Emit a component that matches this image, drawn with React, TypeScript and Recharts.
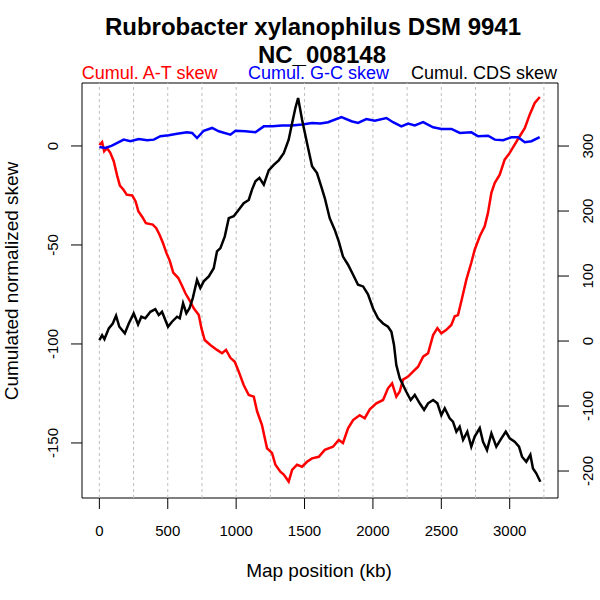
import { LineChart, Line, XAxis, YAxis, ReferenceLine, ReferenceArea } from "recharts";

const FONT = '"Liberation Sans", Arial, Helvetica, sans-serif';

// cumulated A-T skew (left axis)
const atKb = [
  0, 20, 35, 55, 80, 105, 130, 150, 175, 200, 240, 265, 285, 315, 340, 390, 415, 440, 465, 490,
  515, 540, 577, 600, 629, 665, 690, 727, 746, 770, 811, 860, 897, 926, 958, 990, 1019, 1055, 1092, 1129,
  1153, 1189, 1214, 1226, 1262, 1287, 1323, 1348, 1384, 1409, 1445, 1482, 1518, 1555, 1604, 1648, 1708, 1750, 1781, 1818,
  1855, 1903, 1940, 1977, 2025, 2074, 2110, 2140, 2171, 2196, 2220, 2257, 2293, 2330, 2367, 2403, 2440, 2471, 2500, 2537,
  2573, 2598, 2622, 2651, 2683, 2719, 2744, 2781, 2817, 2841, 2866, 2890, 2927, 2963, 3000, 3036, 3073, 3110, 3146, 3183, 3220,
];
const atSkew = [
  0.5, 2, -2.7, -1, -3.5, -7.7, -15, -20, -22, -24.6, -25, -28, -33, -36, -39, -39.7, -41.4, -44.8, -49, -54,
  -58, -64, -66.7, -70, -74.4, -78.6, -82, -85.4, -92, -98, -100.5, -103, -104.7, -103, -107, -109, -114, -120.7, -125.8, -126.6,
  -134, -141, -149, -152.7, -155, -161, -164.5, -166, -169.5, -163.6, -161, -162, -159.5, -157.8, -157, -153.5, -151.9, -148.5, -150, -142.6,
  -138.4, -136, -137.5, -133, -130, -128.3, -122.4, -119.9, -126.6, -124, -118, -116.5, -114, -111.5, -106.4, -104.7, -95.5, -92, -94.6, -92.9,
  -90.4, -86, -85.4, -77, -67.5, -59, -52.4, -45.6, -40.6, -33.8, -23.7, -18.7, -14.5, -6.9, -3.5, 0.7, 4.9, 9, 15.8, 21.7, 24.7,
];

// cumulated G-C skew (left axis)
const gcKb = [
  0, 43, 88, 117, 178, 227, 288, 349, 398, 446, 507, 568, 641, 678, 714, 763, 824, 873, 958, 995,
  1068, 1141, 1202, 1263, 1336, 1409, 1482, 1555, 1616, 1672, 1770, 1843, 1891, 1952, 2013, 2099, 2147, 2208, 2257, 2306,
  2367, 2440, 2501, 2574, 2635, 2720, 2769, 2842, 2891, 2952, 3013, 3061, 3110, 3159, 3219,
];
const gcSkew = [
  -0.5, -1, 0, 1, 3.2, 2.4, 3.5, 2.9, 3.2, 4.9, 5.4, 6.2, 6.9, 6.6, 4, 7.7, 9.1, 7.4, 5.7, 7.7,
  7.4, 6.9, 9.9, 9.9, 10.3, 10.3, 10.8, 11.6, 11.3, 12, 14.6, 12.5, 11.6, 13.6, 12.8, 14.1, 12, 9.9, 11.3, 10.4,
  12, 9.4, 8.6, 8.6, 6.6, 6.9, 4.9, 5.2, 3.2, 2.9, 4.4, 4.4, 1.9, 2.4, 4.5,
];

// cumulated CDS skew (right axis)
const cdsKb = [
  0, 20, 37, 69, 98, 122, 146, 186, 215, 251, 283, 307, 336, 373, 409, 434, 458, 502, 531, 568,
  588, 612, 636, 658, 683, 714, 738, 763, 800, 836, 860, 885, 917, 946, 982, 1019, 1055, 1092, 1116, 1141,
  1170, 1202, 1238, 1275, 1311, 1348, 1384, 1409, 1433, 1453, 1482, 1518, 1555, 1591, 1623, 1648, 1684, 1721, 1750, 1781,
  1818, 1855, 1891, 1928, 1964, 2001, 2037, 2074, 2110, 2135, 2154, 2171, 2196, 2220, 2244, 2276, 2306, 2342, 2374, 2403,
  2440, 2471, 2500, 2525, 2561, 2585, 2610, 2634, 2659, 2690, 2719, 2744, 2781, 2805, 2834, 2866, 2902, 2939, 2971, 3000,
  3036, 3068, 3090, 3121, 3151, 3170, 3194, 3224,
];
const cdsSkew = [
  1.5, 9, 3, 19.5, 27, 39, 22, 11.8, 27, 42.6, 25.6, 37.4, 34.9, 45, 49, 40, 45, 22, 29.7, 37.4,
  35, 58, 42.6, 50, 66, 94, 81.5, 91.8, 99.5, 112, 138, 143, 161, 189, 192, 202, 212, 217, 233, 245.7,
  251, 240.5, 262.6, 271, 278, 289, 309.7, 335, 358.5, 373.8, 340.5, 304.6, 268.8, 258.5, 237, 220, 189, 171, 153.4, 130,
  117.4, 102, 86.6, 84, 72, 50, 35, 27, 22, 14.4, -6, -37, -57.4, -67.7, -78, -90.8, -83, -95.8, -106, -95.8,
  -90.8, -95.8, -114, -103.5, -119, -124, -139.5, -131.8, -152, -139.5, -162.6, -147, -134, -155, -167.7, -142, -162.6, -149.7, -139.5, -149.7,
  -155, -162.6, -178, -185.7, -175, -196, -203.5, -216.5,
];

const xTicks = [0, 500, 1000, 1500, 2000, 2500, 3000];
const gridKb = [0, 250, 500, 750, 1000, 1250, 1500, 1750, 2000, 2250, 2500, 2750, 3000, 3250];
const leftTicks = [-150, -100, -50, 0];
const rightTicks = [-200, -100, 0, 100, 200, 300];

const xDomain: [number, number] = [-127, 3353];
const leftDomain: [number, number] = [-177.8, 31.8];
const rightDomain: [number, number] = [-241.5, 397];

const zip = (xs: number[], ys: number[]) => xs.map((kb, i) => ({ kb, v: ys[i] }));
const atData = zip(atKb, atSkew);
const gcData = zip(gcKb, gcSkew);
const cdsData = zip(cdsKb, cdsSkew);

function LeftTick(props: any) {
  const { y, payload } = props;
  return (
    <text x={58.3} y={y} transform={`rotate(-90 58.3 ${y})`} textAnchor="middle" fontSize={15} fontFamily={FONT} fill="#000">
      {payload.value}
    </text>
  );
}

function RightTick(props: any) {
  const { y, payload } = props;
  return (
    <text x={593.3} y={y} transform={`rotate(-90 593.3 ${y})`} textAnchor="middle" fontSize={15} fontFamily={FONT} fill="#000">
      {payload.value}
    </text>
  );
}

function BottomTick(props: any) {
  const { x, payload } = props;
  return (
    <text x={x} y={535.7} textAnchor="middle" fontSize={15} fontFamily={FONT} fill="#000">
      {payload.value}
    </text>
  );
}

export default function App() {
  return (
    <div style={{ position: "absolute", left: 0, top: 0, width: 600, height: 600, background: "#fff" }}>
      <LineChart width={600} height={600} margin={{ top: 83, right: 0, bottom: 0, left: 0 }}>
        <XAxis
          type="number"
          dataKey="kb"
          domain={xDomain}
          allowDataOverflow
          ticks={xTicks}
          interval={0}
          height={102}
          tickSize={11}
          axisLine={false}
          tickLine={{ stroke: "#000" }}
          tick={<BottomTick />}
        />
        <YAxis
          yAxisId="left"
          orientation="left"
          domain={leftDomain}
          allowDataOverflow
          ticks={leftTicks}
          interval={0}
          width={82}
          tickSize={11}
          axisLine={false}
          tickLine={{ stroke: "#000" }}
          tick={<LeftTick />}
        />
        <YAxis
          yAxisId="right"
          orientation="right"
          domain={rightDomain}
          allowDataOverflow
          ticks={rightTicks}
          interval={0}
          width={42}
          tickSize={11}
          axisLine={false}
          tickLine={{ stroke: "#000" }}
          tick={<RightTick />}
        />
        {gridKb.map((k) => (
          <ReferenceLine key={k} x={k} yAxisId="left" stroke="#bebebe" strokeDasharray="3 3" />
        ))}
        <ReferenceArea
          x1={xDomain[0]}
          x2={xDomain[1]}
          y1={leftDomain[0]}
          y2={leftDomain[1]}
          yAxisId="left"
          fill="none"
          fillOpacity={0}
          stroke="#000"
          strokeWidth={1}
          ifOverflow="visible"
        />
        <Line data={atData} dataKey="v" yAxisId="left" type="linear" stroke="#ff0000" strokeWidth={2.5} dot={false} isAnimationActive={false} />
        <Line data={gcData} dataKey="v" yAxisId="left" type="linear" stroke="#0000ff" strokeWidth={2.5} dot={false} isAnimationActive={false} />
        <Line data={cdsData} dataKey="v" yAxisId="right" type="linear" stroke="#000000" strokeWidth={2.5} dot={false} isAnimationActive={false} />
      </LineChart>
      <svg width={600} height={600} style={{ position: "absolute", left: 0, top: 0, pointerEvents: "none" }} fontFamily={FONT}>
        <text x={313} y={35} textAnchor="middle" fontSize={24} fontWeight="bold">Rubrobacter xylanophilus DSM 9941</text>
        <text x={322} y={63} textAnchor="middle" fontSize={24} fontWeight="bold">NC_008148</text>
        <text x={81.7} y={79.3} textAnchor="start" fontSize={18} fill="#ff0000">Cumul. A-T skew</text>
        <text x={318.5} y={79.3} textAnchor="middle" fontSize={18} fill="#0000ff">Cumul. G-C skew</text>
        <text x={557} y={79.3} textAnchor="end" fontSize={18} fill="#000">Cumul. CDS skew</text>
        <text x={319} y={576.7} textAnchor="middle" fontSize={19}>Map position (kb)</text>
        <text x={18.3} y={281} transform="rotate(-90 18.3 281)" textAnchor="middle" fontSize={19}>Cumulated normalized skew</text>
      </svg>
    </div>
  );
}
